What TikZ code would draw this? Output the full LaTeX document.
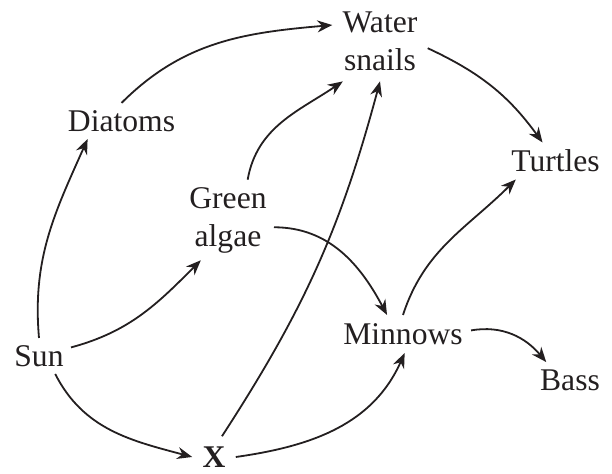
\documentclass[tikz,border=0pt]{standalone}
\usepackage{fontspec}
\setmainfont{Liberation Serif}
\usetikzlibrary{arrows.meta}
\definecolor{ink}{RGB}{35,31,32}

\begin{document}
\begin{tikzpicture}[x=0.5pt, y=0.5pt,
    lab/.style={font=\fontsize{15.8}{19}\selectfont, color=ink, align=center, inner sep=3.5pt},
    feed/.style={->, >={Stealth[length=7.5pt, width=6pt]}, line width=0.9pt, color=ink}]
  \useasboundingbox (0,0) rectangle (612,474);

  % ---- organisms of the pond ------------------------------------------------
  \node[lab] (sun) at (39,118) {Sun};
  \node[lab] (diatoms) at (121.5,353) {Diatoms};
  \node[lab] (algae) at (228,254) {Green\\algae};
  \node[lab, inner sep=5pt] (snails) at (380,432.5) {Water\\snails};
  \node[lab] (turtles) at (555.5,313) {Turtles};
  \node[lab, inner sep=4pt] (minnows) at (403,140) {Minnows};
  \node[lab] (bass) at (570,94) {Bass};
  \node[lab, inner sep=5pt, font=\fontsize{15.8}{19}\selectfont\bfseries] (X) at (214,17) {X};

  % ---- who is eaten by whom -------------------------------------------------
  \draw[feed] (sun.north) to[out=95, in=246] (diatoms.208);
  \draw[feed] (sun.15) to[out=15, in=225] (algae.236);
  \draw[feed] (sun.312) to[out=297, in=165] (X.west);
  \draw[feed] (diatoms.north) to[out=45, in=185] (snails.161);
  \draw[feed] (algae.64) to[out=80, in=214] (snails.227);
  \draw[feed] (algae.351) to[out=0, in=118] (minnows.130);
  \draw[feed] (X.69) to[out=57, in=255] (snails.south);
  \draw[feed] (X.east) to[out=8, in=246] (minnows.275);
  \draw[feed] (snails.352) to[out=-25, in=126] (turtles.125);
  \draw[feed] (minnows.north) to[out=72, in=225] (turtles.205);
  \draw[feed] (minnows.3) to[out=10, in=130] (bass.143);
\end{tikzpicture}
\end{document}
